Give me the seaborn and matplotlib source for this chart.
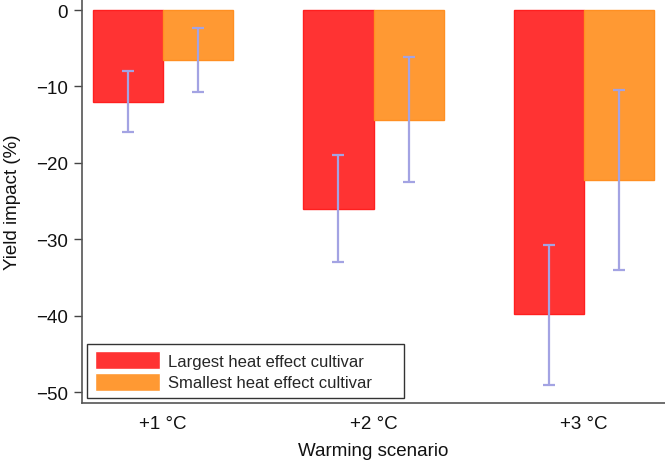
import matplotlib
matplotlib.use("Agg")
import matplotlib.pyplot as plt
import seaborn as sns
import pandas as pd
import numpy as np

scenarios = ["+1 °C", "+2 °C", "+3 °C"]
cultivars = ["Largest heat effect cultivar", "Smallest heat effect cultivar"]
largest_mean = [-12.0, -26.0, -39.8]
largest_low = [-15.9, -33.0, -49.0]
largest_high = [-8.0, -18.9, -30.8]
smallest_mean = [-6.55, -14.4, -22.25]
smallest_low = [-10.7, -22.5, -34.0]
smallest_high = [-2.36, -6.2, -10.4]

sns.set_theme(style="ticks")
plt.rcParams["font.family"] = ["Liberation Sans", "DejaVu Sans"]

df = pd.DataFrame({
    "scenario": scenarios * 2,
    "cultivar": [cultivars[0]] * 3 + [cultivars[1]] * 3,
    "impact": largest_mean + smallest_mean,
})

fig = plt.figure(figsize=(6.65, 4.64), dpi=100)
ax = fig.add_axes([82 / 665, 60 / 464, 583 / 665, 404 / 464])

colors = ["#ff3333", "#ff9933"]
sns.barplot(data=df, x="scenario", y="impact", hue="cultivar", order=scenarios,
            hue_order=cultivars, palette=colors, width=0.667, errorbar=None,
            saturation=1, ax=ax, linewidth=1)

edge = {0: "#ff1f1f", 1: "#ff8f22"}
lows = [largest_low, smallest_low]
highs = [largest_high, smallest_high]
means = [largest_mean, smallest_mean]
bar_containers = list(ax.containers)
for hi, container in enumerate(bar_containers):
    for bi, bar in enumerate(container.patches):
        bar.set_edgecolor(edge[hi])
        xc = bar.get_x() + bar.get_width() / 2
        m = means[hi][bi]
        lo = lows[hi][bi]
        up = highs[hi][bi]
        ax.errorbar([xc], [m], yerr=[[m - lo], [up - m]], fmt="none",
                    ecolor="#a3a3e3", elinewidth=1.6, capsize=4.5, capthick=1.6,
                    zorder=5)

ax.set_ylim(-51.4, 1.44)
ax.set_xlim(-0.386, 2.386)
ax.set_yticks([0, -10, -20, -30, -40, -50])
ax.tick_params(axis="y", labelsize=13.5, length=6, width=1, color="#444444",
               labelcolor="#111111", pad=4)
ax.tick_params(axis="x", labelsize=13.5, length=0, labelcolor="#111111", pad=8.5)
ax.set_xlabel("Warming scenario", fontsize=13.5, color="#111111", labelpad=7)
ax.set_ylabel("Yield impact (%)", fontsize=13.5, color="#111111", labelpad=11)
for s in ["top", "right"]:
    ax.spines[s].set_visible(False)
for s in ["left", "bottom"]:
    ax.spines[s].set_color("#555555")
    ax.spines[s].set_linewidth(1.2)

leg = ax.legend(loc="lower left", bbox_to_anchor=(0.0086, 0.012, 0.544, 0.1),
                mode="expand", borderaxespad=0,
                fontsize=12, handlelength=3.9, handleheight=1.25, fancybox=False,
                frameon=True, edgecolor="#333333", framealpha=1, borderpad=0.45,
                labelspacing=0.25, handletextpad=0.5)
leg.get_frame().set_linewidth(1.0)

fig.savefig("out.png", dpi=100)
